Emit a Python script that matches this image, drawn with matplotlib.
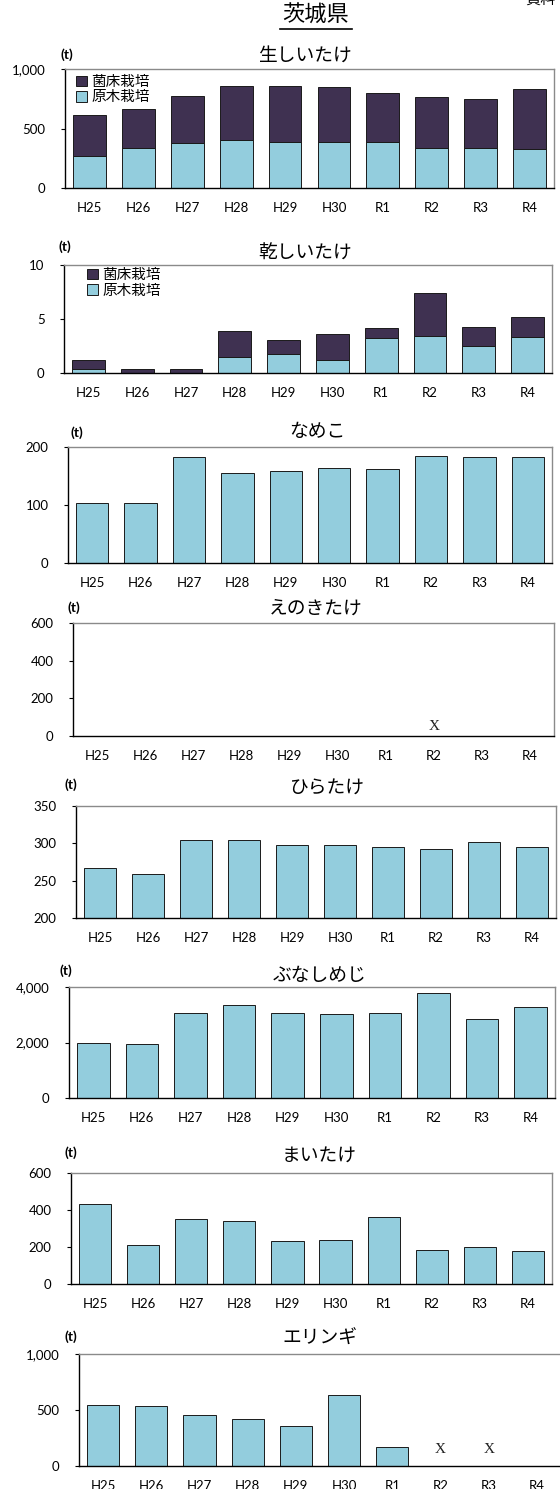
import matplotlib.pyplot as plt
from matplotlib.lines import Line2D
from matplotlib.ticker import FuncFormatter

plt.rcParams['font.family'] = ['Noto Sans CJK JP', 'DejaVu Sans']

# Figure size in pixels
W, H = 560, 1489

LIGHT = "#93CDDD"   # 原木栽培 / single series
DARK = "#3F3151"    # 菌床栽培
EDGE = "#1a1a1a"

years = ["H25", "H26", "H27", "H28", "H29", "H30", "R1", "R2", "R3", "R4"]

# 生しいたけ (t)
nama_genboku = [266, 336, 378, 400, 387, 387, 387, 336, 336, 328]
nama_kinsho = [350, 331, 392, 454, 470, 465, 411, 429, 415, 504]

# 乾しいたけ (t)
hoshi_genboku = [0.4, 0.0, 0.0, 1.48, 1.72, 1.2, 3.23, 3.42, 2.52, 3.32]
hoshi_kinsho = [0.83, 0.4, 0.4, 2.37, 1.33, 2.43, 0.92, 4.03, 1.73, 1.85]

# single-series items; 'X' = 秘匿, None = no data
nameko = [103, 103, 183, 155, 159, 164, 162, 184, 182, 182]
enokitake = [None, None, None, None, None, None, None, "X", None, None]
hiratake = [266.6, 259.5, 303.9, 304.7, 298, 298, 294.5, 292.8, 301.6, 294.5]
bunashimeji = [1994, 1934, 3057, 3347, 3057, 3021, 3057, 3782, 2840, 3275]
maitake = [434, 210, 349, 343, 235, 240, 360, 183, 201, 179]
eringi = [542, 533, 458, 419, 356, 635, 168, "X", "X", None]

fig = plt.figure(figsize=(W / 100, H / 100), dpi=100)


def px_axes(l, t, r, b):
    return fig.add_axes([l / W, 1 - b / H, (r - l) / W, (b - t) / H])


def style_axes(ax, ylim, yticks):
    ax.set_xlim(-0.5, len(years) - 0.5)
    ax.set_ylim(*ylim)
    ax.set_yticks(yticks)
    ax.yaxis.set_major_formatter(FuncFormatter(lambda v, p: f"{v:,.0f}"))
    ax.set_xticks(range(len(years)))
    ax.set_xticklabels(years)
    ax.tick_params(axis="x", length=0, pad=10, labelsize=9.5)
    ax.tick_params(axis="y", direction="out", length=3, width=0.8,
                   pad=11, labelsize=9.5)
    for lab in ax.get_xticklabels() + ax.get_yticklabels():
        lab.set_family(["Lato", "DejaVu Sans"])
    for s in ("top", "right"):
        ax.spines[s].set_color("#8a8a8a")
        ax.spines[s].set_linewidth(1.0)
    for s in ("left", "bottom"):
        ax.spines[s].set_color("#000000")
        ax.spines[s].set_linewidth(1.0)


def labels(title, tx, ty, ux, uy):
    fig.text(tx / W, 1 - ty / H, title, ha="center", va="center",
             fontsize=13.5)
    fig.text(ux / W, 1 - uy / H, "(t)", ha="center", va="center",
             fontsize=10, fontweight="bold", family=["Lato", "DejaVu Sans"])


def single(ax, values, x_off=8):
    for i, v in enumerate(values):
        if v is None:
            continue
        if v == "X":
            ax.annotate("X", (i, 0), xytext=(0, x_off), textcoords="offset points",
                        ha="center", va="center", fontsize=11,
                        family=["Liberation Serif", "DejaVu Serif"], color="#222222")
        else:
            ax.bar(i, v, width=0.67, color=LIGHT, edgecolor=EDGE, linewidth=0.7)


def stacked(ax, genboku, kinsho, leg_x, leg_y):
    b1 = ax.bar(range(len(years)), genboku, width=0.67, color=LIGHT,
                edgecolor=EDGE, linewidth=0.7, label="原木栽培")
    b2 = ax.bar(range(len(years)), kinsho, bottom=genboku, width=0.67,
                color=DARK, edgecolor=EDGE, linewidth=0.7, label="菌床栽培")
    ax.legend(handles=[b2, b1], loc="upper left", bbox_to_anchor=(leg_x, leg_y),
              frameon=False, fontsize=10.5, handlelength=0.75, handleheight=0.75,
              handletextpad=0.3, labelspacing=0.1, borderaxespad=0,
              borderpad=0)


# heading
fig.text(316 / W, 1 - 15 / H, "茨城県", ha="center", va="center", fontsize=16)
fig.add_artist(Line2D([280 / W, 352 / W], [1 - 29 / H] * 2, color="black", lw=1.2))
fig.text(556 / W, 1 + 1 / H, "資料", ha="right", va="center", fontsize=11)

# 生しいたけ
ax = px_axes(65, 69, 554, 188)
stacked(ax, nama_genboku, nama_kinsho, 0.022, 0.95)
style_axes(ax, (0, 1000), [0, 500, 1000])
labels("生しいたけ", 305, 55, 67, 55)

# 乾しいたけ
ax = px_axes(64, 265, 552, 373)
stacked(ax, hoshi_genboku, hoshi_kinsho, 0.047, 0.97)
style_axes(ax, (0, 10), [0, 5, 10])
labels("乾しいたけ", 305, 253, 65, 247)

# なめこ
ax = px_axes(68, 447, 552, 563)
single(ax, nameko)
style_axes(ax, (0, 200), [0, 100, 200])
labels("なめこ", 317, 432, 77, 433)

# えのきたけ
ax = px_axes(73, 623, 554, 736)
single(ax, enokitake, x_off=7)
style_axes(ax, (0, 600), [0, 200, 400, 600])
labels("えのきたけ", 316, 608, 74, 608)

# ひらたけ
ax = px_axes(76, 806, 556, 918)
single(ax, hiratake)
style_axes(ax, (200, 350), [200, 250, 300, 350])
labels("ひらたけ", 327, 787, 71, 785)

# ぶなしめじ
ax = px_axes(69, 987, 555, 1098)
single(ax, bunashimeji)
style_axes(ax, (0, 4000), [0, 2000, 4000])
labels("ぶなしめじ", 320, 975, 66, 971)

# まいたけ
ax = px_axes(71, 1173, 552, 1284)
single(ax, maitake)
style_axes(ax, (0, 600), [0, 200, 400, 600])
labels("まいたけ", 319, 1155, 71, 1153)

# エリンギ
ax = px_axes(79, 1354, 561, 1466)
single(ax, eringi, x_off=12)
style_axes(ax, (0, 1000), [0, 500, 1000])
labels("エリンギ", 320, 1338, 71, 1337)

fig.savefig("out.png", dpi=100, facecolor="white")
